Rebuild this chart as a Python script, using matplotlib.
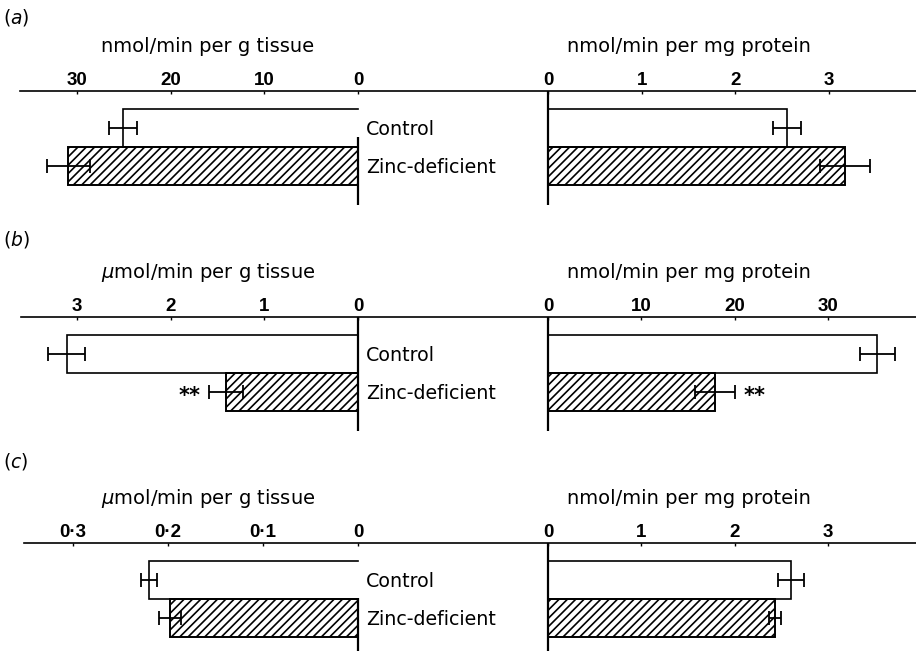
import matplotlib
matplotlib.use('Agg')
import matplotlib.pyplot as plt
from matplotlib.lines import Line2D

plt.rcParams['hatch.linewidth'] = 1.2

# ---------------- data ----------------
groups = ['Control', 'Zinc-deficient']
panel_letters = ['a', 'b', 'c']

tissue_units = ['nmol/min per g tissue',
                r'$\mu$mol/min per g tissue',
                r'$\mu$mol/min per g tissue']
protein_units = ['nmol/min per mg protein',
                 'nmol/min per mg protein',
                 'nmol/min per mg protein']

tissue_ticks = [[0, 10, 20, 30], [0, 1, 2, 3], [0, 0.1, 0.2, 0.3]]
tissue_ticklabels = [['0', '10', '20', '30'], ['0', '1', '2', '3'],
                     ['0', '0·1', '0·2', '0·3']]
protein_ticks = [[0, 1, 2, 3], [0, 10, 20, 30], [0, 1, 2, 3]]
protein_ticklabels = [['0', '1', '2', '3'], ['0', '10', '20', '30'],
                      ['0', '1', '2', '3']]

# values: [Control, Zinc-deficient]
tissue_means = [[25.1, 30.9], [3.11, 1.41], [0.220, 0.198]]
tissue_errs = [[1.5, 2.3], [0.20, 0.18], [0.008, 0.012]]
protein_means = [[2.55, 3.17], [35.3, 17.9], [2.60, 2.43]]
protein_errs = [[0.15, 0.27], [1.9, 2.1], [0.14, 0.06]]
tissue_sig = [['', ''], ['', '**'], ['', '']]
protein_sig = [['', ''], ['', '**'], ['', '']]

# ---------------- layout (pixels) ----------------
W, H = 916, 651
DPI = 100
fig = plt.figure(figsize=(W / DPI, H / DPI), dpi=DPI)

axis_y = [91, 317, 543]
panel_bottom = [205, 431, 651]
line_x0 = [20, 21, 24]
left_px = (20, 358)
right_px = (548, 916)
tissue_xmax = [36.07, 3.608, 0.3558]
protein_xmax = [3.929, 39.43, 3.94]
left_zero_start = [46, 0, 55]
bar_centers = [36.5, 74.5]
bar_h = 38
letter_baseline = [23, 245, 467]

label_font = 'DejaVu Sans'
tick_font = 'Liberation Sans'


def add_ax(x0, x1, y0, y1):
    return fig.add_axes([x0 / W, 1 - y1 / H, (x1 - x0) / W, (y1 - y0) / H])


def style_ax(ax, xlim, ticks, labels, height):
    ax.set_xlim(*xlim)
    ax.set_ylim(height, 0)
    for s in ax.spines.values():
        s.set_visible(False)
    ax.set_yticks([])
    ax.xaxis.tick_top()
    ax.set_xticks(ticks)
    ax.set_xticklabels(labels, fontfamily=tick_font, fontweight='bold',
                       fontsize=13.5)
    ax.tick_params(axis='x', length=2, width=1, direction='in', pad=1.5)
    ax.patch.set_alpha(0)


def draw_panel(ax, means, errs, sig, zero_start, height, side):
    # open control bar outline (three sides)
    v = means[0]
    yc = bar_centers[0]
    ax.plot([0, v, v, 0], [yc - bar_h / 2, yc - bar_h / 2, yc + bar_h / 2, yc + bar_h / 2],
            color='black', lw=1.2, solid_joinstyle='miter', clip_on=False)
    # hatched zinc-deficient bar
    ax.barh(bar_centers[1], means[1], height=bar_h, left=0, color='white',
            edgecolor='black', hatch='////', linewidth=1.4, clip_on=False)
    for i in range(2):
        ax.errorbar(means[i], bar_centers[i], xerr=errs[i], fmt='none',
                    ecolor='black', elinewidth=1.3, capsize=5, capthick=1.3,
                    clip_on=False)
        if sig[i]:
            off = -14 if side == 'left' else 14
            ax.annotate(sig[i], xy=(means[i] + errs[i], bar_centers[i]),
                        xytext=(off, -3), textcoords='offset points',
                        ha='center', va='center', fontsize=15,
                        fontweight='bold', fontfamily=label_font,
                        annotation_clip=False)
    ax.plot([0, 0], [zero_start, height], color='black', lw=1.6,
            clip_on=False, solid_capstyle='butt')


for p in range(3):
    y0 = axis_y[p]
    y1 = panel_bottom[p]
    height = y1 - y0

    # horizontal axis line across the whole panel
    fig.add_artist(Line2D([line_x0[p] / W, 1.0], [1 - y0 / H, 1 - y0 / H],
                          color='black', lw=1.2))

    axl = add_ax(left_px[0], left_px[1], y0, y1)
    style_ax(axl, (tissue_xmax[p], 0), tissue_ticks[p], tissue_ticklabels[p], height)
    draw_panel(axl, tissue_means[p], tissue_errs[p], tissue_sig[p],
               left_zero_start[p], height, 'left')

    axr = add_ax(right_px[0], right_px[1], y0, y1)
    style_ax(axr, (0, protein_xmax[p]), protein_ticks[p], protein_ticklabels[p], height)
    draw_panel(axr, protein_means[p], protein_errs[p], protein_sig[p],
               0, height, 'right')

    # unit titles
    fig.text(208 / W, 1 - (y0 - 39) / H, tissue_units[p], ha='center',
             va='baseline', fontsize=14, fontfamily=label_font)
    fig.text(689 / W, 1 - (y0 - 39) / H, protein_units[p], ha='center',
             va='baseline', fontsize=14, fontfamily=label_font)

    # group labels
    for i, g in enumerate(groups):
        fig.text(366 / W, 1 - (y0 + bar_centers[i] + 2) / H, g, ha='left',
                 va='center', fontsize=13.7, fontfamily=label_font)

    # panel letter
    fig.text(3 / W, 1 - letter_baseline[p] / H,
             '(' + r'$\mathit{' + panel_letters[p] + '}$' + ')',
             ha='left', va='baseline', fontsize=13.5, fontfamily=label_font)

fig.savefig('out.png', dpi=DPI)
